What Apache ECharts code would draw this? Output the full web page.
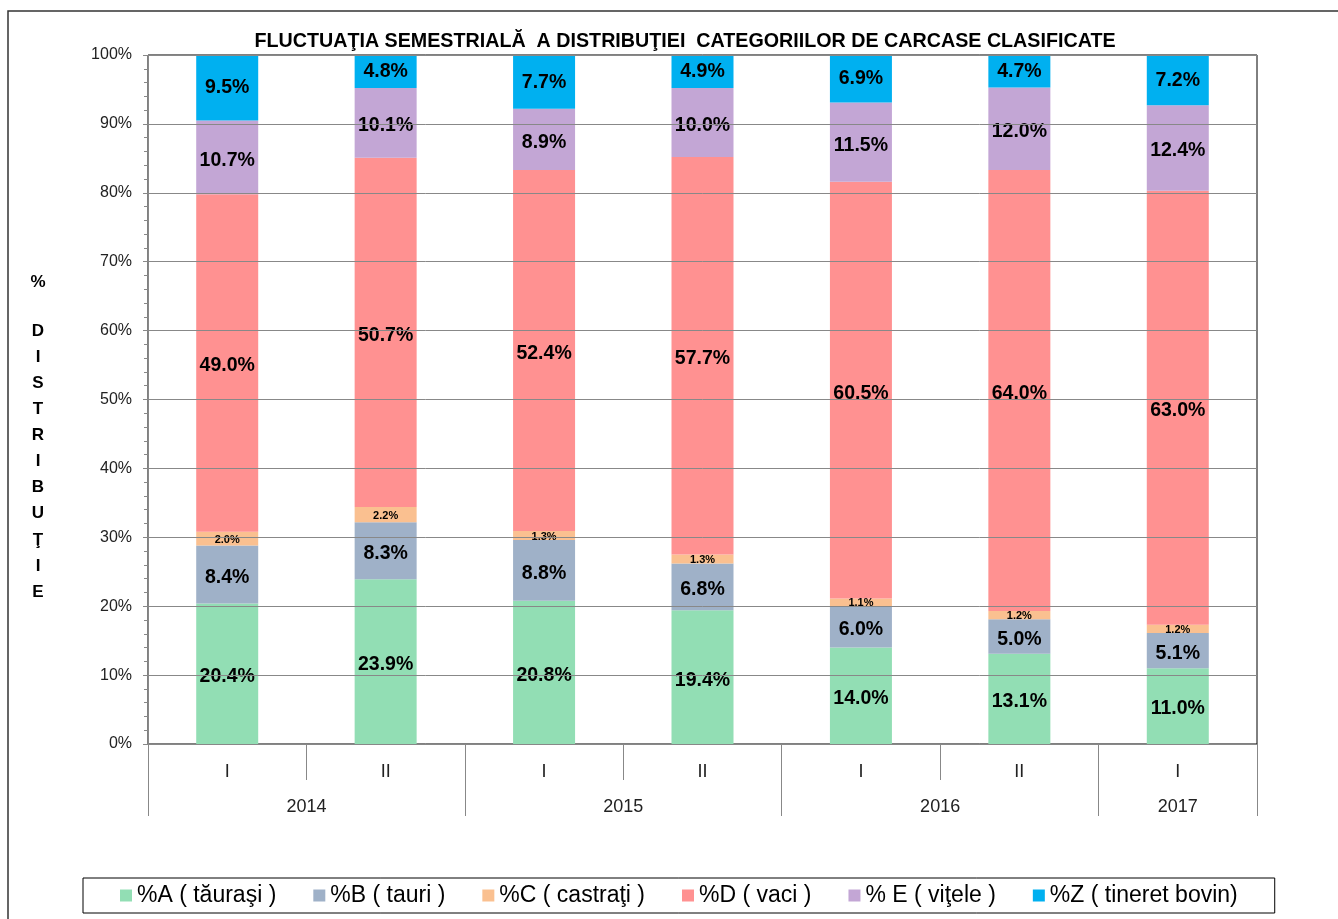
<!DOCTYPE html>
<html>
<head>
<meta charset="utf-8">
<script src="https://cdn.jsdelivr.net/npm/echarts@6/dist/echarts.min.js"></script>
<style>
html,body{margin:0;padding:0;background:#fff;}
#chart{width:1338px;height:919px;}
</style>
</head>
<body>
<div id="chart"></div>
<script>
// semestre (categorii) si ani
var semestre = ['I', 'II', 'I', 'II', 'I', 'II', 'I'];
// axa anilor: jumatati de categorie, eticheta pe mijlocul fiecarui an
var aniAxa = ['', '', '2014', '', '', '', '2015', '', '', '', '2016', '', '', '2017', ''];
var aniEtichete = [2, 6, 10, 13];
var aniSeparatori = [0, 4, 8, 12, 14];
var semSeparatori = [2, 6, 10];

var numeSerii = ['%A ( tăuraşi )', '%B ( tauri )', '%C ( castraţi )', '%D ( vaci )', '% E ( viţele )', '%Z ( tineret bovin)'];
var culori = ['#92DEB4', '#9FB1C8', '#FAC090', '#FF9191', '#C3A6D5', '#00B0F0'];

var serieA = [20.4, 23.9, 20.8, 19.4, 14.0, 13.1, 11.0];
var serieB = [8.4, 8.3, 8.8, 6.8, 6.0, 5.0, 5.1];
var serieC = [2.0, 2.2, 1.3, 1.3, 1.1, 1.2, 1.2];
var serieD = [49.0, 50.7, 52.4, 57.7, 60.5, 64.0, 63.0];
var serieE = [10.7, 10.1, 8.9, 10.0, 11.5, 12.0, 12.4];
var serieZ = [9.5, 4.8, 7.7, 4.9, 6.9, 4.7, 7.2];
var valori = [serieA, serieB, serieC, serieD, serieE, serieZ];

var FONT = '"Liberation Sans", Arial, sans-serif';

var chart = echarts.init(document.getElementById('chart'));

var Series = [];
for (var i = 0; i < valori.length; i++) {
	var mic = (i == 2);
	Series.push({
		name: numeSerii[i],
		type: 'bar',
		stack: 'total',
		barWidth: 62,
		data: valori[i],
		itemStyle: {color: culori[i]},
		label: {
			show: true,
			position: 'inside',
			offset: [0, mic ? 1 : 3],
			color: '#000',
			fontFamily: FONT,
			fontWeight: 'bold',
			fontSize: mic ? 11 : 19.5,
			formatter: function(p){ return p.value.toFixed(1) + '%'; }
		},
		// etichetele de sus sunt tinute in interiorul zonei graficului
		labelLayout: (i == 5) ? function(p){
			if (p.labelRect.y < 61) {
				return {y: 61 + p.labelRect.height / 2};
			}
			return {};
		} : null
	});
}

var option = {
	animation: false,
	backgroundColor: '#fff',
	title: {
		text: 'FLUCTUAŢIA SEMESTRIALĂ  A DISTRIBUŢIEI  CATEGORIILOR DE CARCASE CLASIFICATE',
		left: 680,
		top: 27,
		textAlign: 'center',
		textStyle: {fontFamily: FONT, fontSize: 19.7, fontWeight: 'bold', color: '#000'}
	},
	graphic: [
		{type: 'rect', shape: {x: 8, y: 11, width: 1340, height: 920}, style: {fill: null, stroke: '#333', lineWidth: 1.5}, silent: true},
		{type: 'text', x: 38, y: 282, style: {text: '%', font: 'bold 17px ' + FONT, fill: '#000', align: 'center', verticalAlign: 'middle'}},
		{type: 'text', x: 38, y: 318, style: {text: 'D\nI\nS\nT\nR\nI\nB\nU\nŢ\nI\nE', font: 'bold 17px ' + FONT, fill: '#000', align: 'center', verticalAlign: 'top', lineHeight: 26.1}}
	],
	legend: {
		left: 83,
		top: 878,
		padding: [6, 37, 6, 37],
		itemGap: 37,
		itemWidth: 12,
		itemHeight: 12,
		icon: 'rect',
		borderColor: '#000',
		borderWidth: 1,
		textStyle: {fontFamily: FONT, fontSize: 23, color: '#000'},
		data: numeSerii
	},
	grid: {
		left: 148,
		right: 81,
		top: 55,
		bottom: 175,
		show: true,
		borderColor: '#000',
		borderWidth: 1,
		containLabel: false
	},
	xAxis: [{
		type: 'category',
		data: semestre,
		position: 'bottom',
		axisLine: {lineStyle: {color: '#888', width: 1}},
		axisTick: {show: false},
		axisLabel: {margin: 19, fontFamily: FONT, fontSize: 18, color: '#222'}
	}, {
		type: 'category',
		data: aniAxa,
		position: 'bottom',
		offset: 0,
		boundaryGap: false,
		axisLine: {show: false},
		axisTick: {
			length: 72,
			lineStyle: {color: '#888'},
			interval: function(index){ return aniSeparatori.indexOf(index) >= 0; }
		},
		axisLabel: {
			margin: 54,
			fontFamily: FONT,
			fontSize: 18,
			color: '#222',
			interval: function(index){ return aniEtichete.indexOf(index) >= 0; }
		}
	}, {
		// separatoare scurte intre semestre
		type: 'category',
		data: aniAxa,
		position: 'bottom',
		offset: 0,
		boundaryGap: false,
		axisLine: {show: false},
		axisLabel: {show: false},
		axisTick: {
			length: 36,
			lineStyle: {color: '#888'},
			interval: function(index){ return semSeparatori.indexOf(index) >= 0; }
		}
	}],
	yAxis: {
		type: 'value',
		min: 0,
		max: 100,
		interval: 10,
		z: 3,
		axisLine: {show: true, lineStyle: {color: '#888'}},
		axisTick: {show: true, length: 5, lineStyle: {color: '#888'}},
		minorTick: {show: true, splitNumber: 5, length: 4, lineStyle: {color: '#888'}},
		splitLine: {show: true, lineStyle: {color: '#888', width: 1}},
		axisLabel: {formatter: '{value}%', margin: 16, fontFamily: FONT, fontSize: 16, color: '#222'}
	},
	series: Series
};

chart.setOption(option);
</script>
</body>
</html>
